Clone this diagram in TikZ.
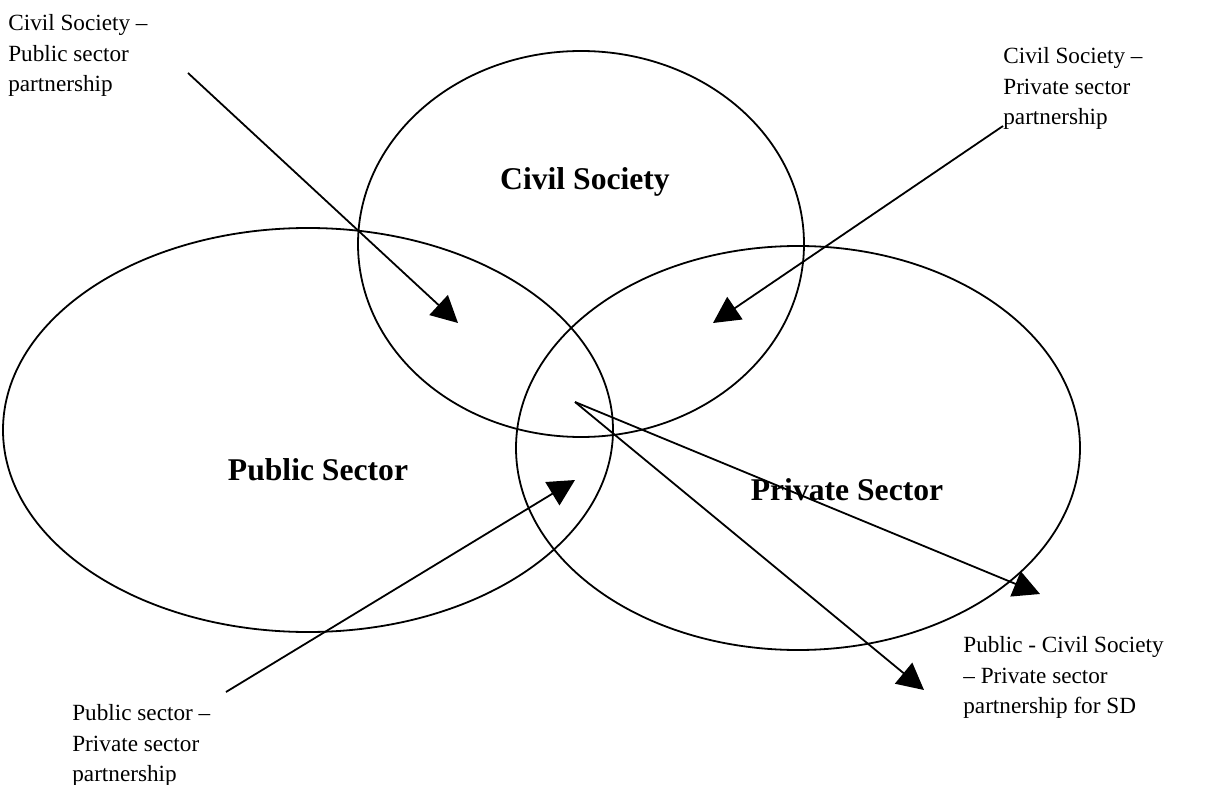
\documentclass[tikz,border=0pt]{standalone}
\usepackage{fontspec}
\setmainfont{Liberation Serif}
\usepackage{tikz}
\usetikzlibrary{arrows.meta}
\tikzstyle{sector}=[line width=0.36mm]
\tikzstyle{pointer}=[line width=0.36mm, -{Triangle[length=5.3mm, width=5.4mm]}]
\tikzstyle{note}=[anchor=north west, inner sep=0pt, align=left, font=\fontsize{13.2}{17.4}\selectfont]
\tikzstyle{title}=[anchor=base, inner sep=0pt, font=\fontsize{18}{21}\selectfont\bfseries]

\begin{document}
\begin{tikzpicture}[x=0.2mm, y=-0.2mm]
    \useasboundingbox (0, 0) rectangle (1208, 785);
    \draw[sector] (581, 244) ellipse [x radius=223, y radius=193];
    \draw[sector] (308, 430) ellipse [x radius=305, y radius=202];
    \draw[sector] (798, 448) ellipse [x radius=282, y radius=202];
    \node[title] (civil) at (585, 190) {Civil Society};
    \node[title] (public) at (318, 480) {Public Sector};
    \node[title] (private) at (847, 500) {Private Sector};
    \node[note] (csPub) at (8, 14) {Civil Society --\\Public sector\\partnership};
    \node[note] (csPriv) at (1003, 47) {Civil Society --\\Private sector\\partnership};
    \node[note] (pubPriv) at (72, 704) {Public sector --\\Private sector\\partnership};
    \node[note] (allSD) at (963, 636) {Public - Civil Society\\-- Private sector\\partnership for SD};
    \coordinate (csPubFrom) at (188, 73);
    \coordinate (csPubTo) at (458, 323);
    \coordinate (csPrivFrom) at (1003, 126);
    \coordinate (csPrivTo) at (713, 323);
    \coordinate (pubPrivFrom) at (226, 692);
    \coordinate (pubPrivTo) at (575, 480);
    \coordinate (allFrom) at (575, 402);
    \coordinate (allTo) at (1040, 594);
    \coordinate (allTo2) at (924, 690);
    \draw[pointer] (csPubFrom) -- (csPubTo);
    \draw[pointer] (csPrivFrom) -- (csPrivTo);
    \draw[pointer] (pubPrivFrom) -- (pubPrivTo);
    \draw[pointer] (allFrom) -- (allTo);
    \draw[pointer] (allFrom) -- (allTo2);
\end{tikzpicture}
\end{document}
